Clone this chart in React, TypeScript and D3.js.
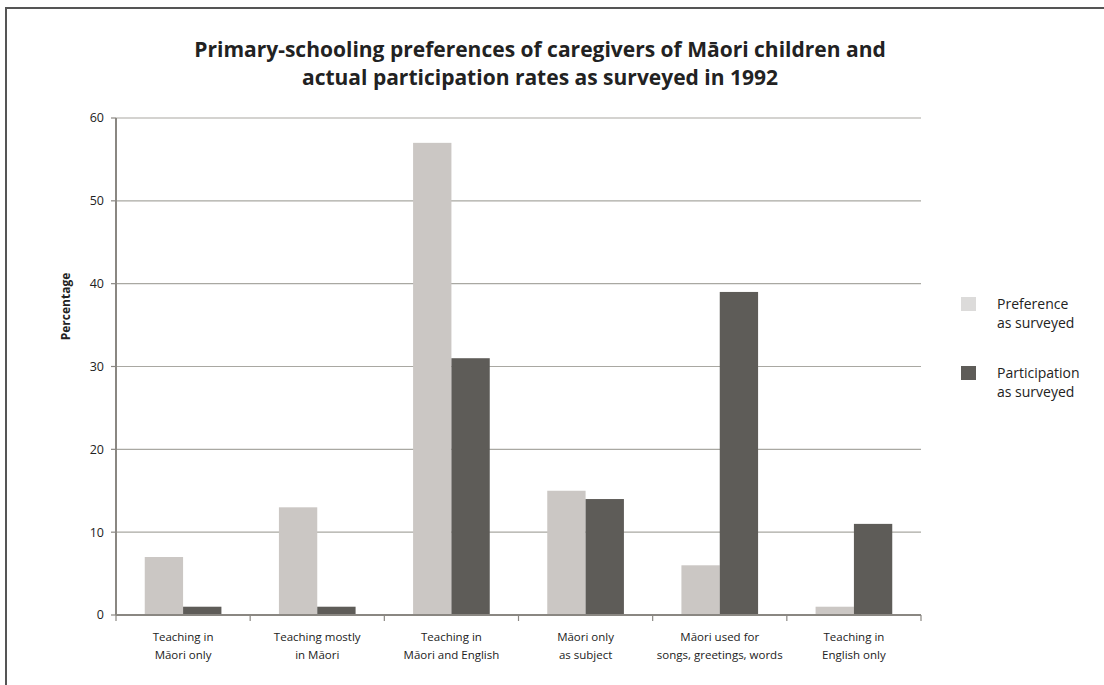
import React from "react";
import * as d3 from "d3";

const W = 1104;
const H = 685;
const MARGIN = { top: 118, right: 182, bottom: 70, left: 116 };

// categories, two-line labels
const categories = ["c1", "c2", "c3", "c4", "c5", "c6"];
const categoryLabels = [
  ["Teaching in", "Māori only"],
  ["Teaching mostly", "in Māori"],
  ["Teaching in", "Māori and English"],
  ["Māori only", "as subject"],
  ["Māori used for", "songs, greetings, words"],
  ["Teaching in", "English only"],
];
const preference = [7, 13, 57, 15, 6, 1];
const participation = [1, 1, 31, 14, 39, 11];
const yTicks = [0, 10, 20, 30, 40, 50, 60];
const seriesNames = [
  ["Preference", "as surveyed"],
  ["Participation", "as surveyed"],
];

const LIGHT = "#cbc7c4";
const DARK = "#5e5c58";
const FONT = "'Open Sans', sans-serif";

export default function App() {
  const boundsW = 921 - MARGIN.left;
  const boundsH = 615 - MARGIN.top;

  const x = d3.scaleBand().domain(categories).range([0, boundsW]);
  const inner = d3
    .scaleBand()
    .domain(["pref", "part"])
    .range([0, x.bandwidth()])
    .paddingOuter(0.75)
    .paddingInner(0);
  const y = d3.scaleLinear().domain([0, 60]).range([boundsH, 0]);

  return (
    <svg width={W} height={H} style={{ display: "block", position: "absolute", left: 0, top: 0 }}>
      <rect width={W} height={H} fill="#fff" />
      {/* frame */}
      <line x1={5} x2={W} y1={8} y2={8} stroke="#555" strokeWidth={2} />
      <line x1={6} x2={6} y1={8} y2={H} stroke="#555" strokeWidth={2} />

      <text x={540} y={57} textAnchor="middle" fontFamily={FONT} fontWeight={700} fontSize={21} fill="#222">
        Primary-schooling preferences of caregivers of Māori children and
      </text>
      <text x={540} y={85} textAnchor="middle" fontFamily={FONT} fontWeight={700} fontSize={21} fill="#222">
        actual participation rates as surveyed in 1992
      </text>

      <g transform={`translate(${MARGIN.left},${MARGIN.top})`}>
        {yTicks.slice(1).map((t) => (
          <line key={t} x1={0} x2={boundsW} y1={y(t)} y2={y(t)} stroke="#a9a8a2" strokeWidth={1.2} />
        ))}
        {yTicks.map((t) => (
          <g key={"l" + t}>
            <line x1={-5} x2={0} y1={y(t)} y2={y(t)} stroke="#8a8782" strokeWidth={1.2} />
            <text x={-12} y={y(t)} dy="0.35em" textAnchor="end" fontFamily={FONT} fontSize={12.5} fill="#222">
              {t}
            </text>
          </g>
        ))}

        {categories.map((c, i) => (
          <g key={c} transform={`translate(${x(c)},0)`}>
            <rect x={inner("pref")} y={y(preference[i])} width={inner.bandwidth()} height={boundsH - y(preference[i])} fill={LIGHT} />
            <rect x={inner("part")} y={y(participation[i])} width={inner.bandwidth()} height={boundsH - y(participation[i])} fill={DARK} />
            {categoryLabels[i].map((line, j) => (
              <text key={j} x={x.bandwidth() / 2} y={boundsH + 26 + j * 18} textAnchor="middle" fontFamily={FONT} fontSize={11.5} fill="#222">
                {line}
              </text>
            ))}
          </g>
        ))}

        {/* axes */}
        <line x1={0} x2={0} y1={0} y2={boundsH} stroke="#8a8782" strokeWidth={2} />
        <line x1={0} x2={boundsW} y1={boundsH} y2={boundsH} stroke="#8a8782" strokeWidth={2} />
        {categories.map((c) => (
          <line key={"t" + c} x1={(x(c) ?? 0) + x.bandwidth()} x2={(x(c) ?? 0) + x.bandwidth()} y1={boundsH} y2={boundsH + 6} stroke="#8a8782" strokeWidth={1.2} />
        ))}
        <line x1={0} x2={0} y1={boundsH} y2={boundsH + 6} stroke="#8a8782" strokeWidth={1.2} />

        <text transform={`translate(${-46},${boundsH / 2 - 60}) rotate(-90)`} textAnchor="middle" fontFamily={FONT} fontWeight={700} fontSize={12} fill="#222">
          Percentage
        </text>
      </g>

      {/* legend */}
      {seriesNames.map((s, i) => (
        <g key={i} transform={`translate(961,${297 + i * 69})`}>
          <rect width={15} height={14} fill={i === 0 ? "#dcdbda" : DARK} />
          {s.map((line, j) => (
            <text key={j} x={36} y={12 + j * 19} fontFamily={FONT} fontSize={14} fill="#222">
              {line}
            </text>
          ))}
        </g>
      ))}
    </svg>
  );
}
